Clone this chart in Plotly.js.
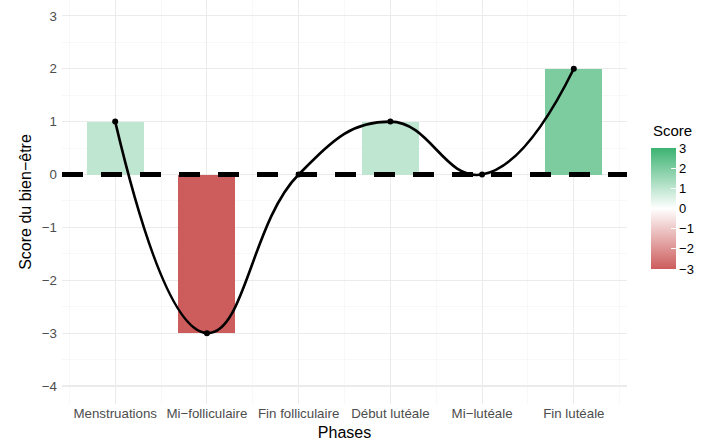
<!DOCTYPE html>
<html>
<head>
<meta charset="utf-8">
<script src="https://cdn.plot.ly/plotly-3.0.1.min.js"></script>
<style>html,body{margin:0;padding:0;background:#fff;}#chart{width:717px;height:448px;}</style>
</head>
<body>
<div id="chart"></div>
<script>
const phases = ["Menstruations", "Mi\u2212folliculaire", "Fin folliculaire", "Début lutéale", "Mi\u2212lutéale", "Fin lutéale"];
const scores = [1, -3, 0, 1, 0, 2];
const yTicks = [-4, -3, -2, -1, 0, 1, 2, 3];
const legendTicks = [-3, -2, -1, 0, 1, 2, 3];
const legendTitle = "Score";

const pos = phases.map((p, i) => i + 1);
const xRange = [0.42, 6.58];
const FONT = "Liberation Sans, Arial, sans-serif";
const colorscale = [[0, "#CD5C5C"], [0.5, "#FFFFFF"], [1, "#3CB371"]];
const minus = v => v < 0 ? "\u2212" + Math.abs(v) : String(v);

const traces = [
  {
    type: "bar", x: pos, y: scores, width: 0.62,
    marker: {
      color: scores, cmin: -3, cmax: 3, colorscale: colorscale, showscale: true,
      line: {width: 0},
      colorbar: {
        thickness: 25, thicknessmode: "pixels", len: 121, lenmode: "pixels",
        x: 1.042, xanchor: "left", xpad: 0, y: 0.334, yanchor: "bottom", ypad: 0,
        tickvals: legendTicks, ticktext: legendTicks.map(minus),
        ticks: "inside", ticklen: 5, tickcolor: "#fff", tickwidth: 1,
        tickfont: {family: FONT, size: 13, color: "#000"},
        outlinewidth: 0
      }
    },
    hoverinfo: "skip", showlegend: false
  },
  {
    type: "scatter", mode: "lines", x: xRange, y: [0, 0],
    line: {color: "#000", width: 5, dash: "21px,18px"},
    showlegend: false, hoverinfo: "skip"
  },
  {
    type: "scatter", mode: "lines+markers", x: pos, y: scores,
    line: {color: "#000", width: 2.6, shape: "spline", smoothing: 1.3},
    marker: {color: "#000", size: 6},
    showlegend: false, hoverinfo: "skip"
  }
];

const layout = {
  width: 717, height: 448,
  margin: {l: 62, r: 90, t: 0, b: 44},
  paper_bgcolor: "#fff", plot_bgcolor: "#fff",
  font: {family: FONT},
  xaxis: {
    range: xRange, tickvals: pos, ticktext: phases,
    showgrid: true, gridcolor: "#EBEBEB", gridwidth: 1.1,
    minor: {dtick: 1, tick0: 0.5, showgrid: true, gridcolor: "#F3F3F3", gridwidth: 0.6},
    zeroline: false, showline: false, ticks: "",
    tickfont: {family: FONT, size: 13.3, color: "#4D4D4D"},
    title: {text: "Phases", font: {family: FONT, size: 16, color: "#000"}, standoff: 6}
  },
  yaxis: {
    range: [-4.34, 3.3], tickvals: yTicks,
    ticktext: yTicks.map(minus),
    showgrid: true, gridcolor: "#EBEBEB", gridwidth: 1.1,
    minor: {dtick: 0.5, tick0: 0.5, showgrid: true, gridcolor: "#F3F3F3", gridwidth: 0.6},
    zeroline: false, showline: false, ticks: "", ticklabelstandoff: 4,
    tickfont: {family: FONT, size: 13.3, color: "#4D4D4D"},
    title: {text: "Score du bien\u2212être", font: {family: FONT, size: 16, color: "#000"}, standoff: 6}
  },
  annotations: [{
    text: legendTitle, xref: "paper", yref: "paper", x: 1.0425, y: 0.676,
    xanchor: "left", yanchor: "middle", showarrow: false,
    font: {family: FONT, size: 15, color: "#000"}
  }],
  bargap: 0
};

Plotly.newPlot("chart", traces, layout, {staticPlot: true, displayModeBar: false});
</script>
</body>
</html>
